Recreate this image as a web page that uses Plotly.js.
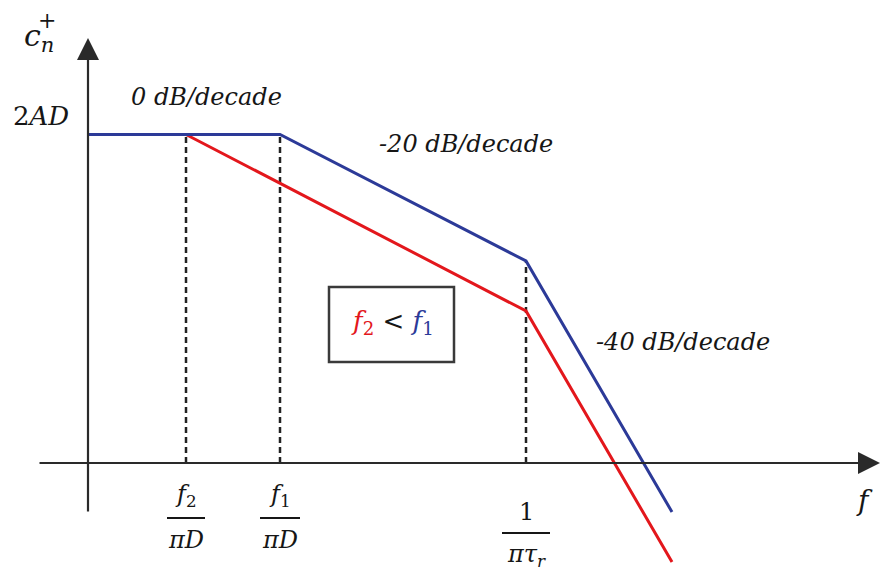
<!DOCTYPE html>
<html>
<head>
<meta charset="utf-8">
<script src="https://cdn.plot.ly/plotly-3.0.1.min.js"></script>
<style>
  html, body { margin: 0; padding: 0; background: #ffffff; }
  #chart { width: 881px; height: 573px; }
</style>
</head>
<body>
<div id="chart"></div>
<script>
// Asymptotic (Bode-style) magnitude of the one-sided spectrum c_n^+
// Horizontal unit: log-frequency position; vertical unit: magnitude level.

// Break frequencies on the log-frequency axis
const breakNames = ['f2/πD', 'f1/πD', '1/πτr'];
const breakPositions = [9.8, 19.2, 43.8];
const freqEnd = 58.4;

// Flat level (2AD)
const flatLevel = 32.85;

// Series: f1 case (blue) and f2 case (red)
const blueX = [0, breakPositions[1], breakPositions[2], freqEnd];
const blueY = [flatLevel, flatLevel, 20.2, -4.9];
const redX = [breakPositions[0], breakPositions[2], freqEnd];
const redY = [flatLevel, 15.2, -9.9];

// Levels where the dashed guides meet the curves
const guideTops = [flatLevel, flatLevel, blueY[2]];

// Tick labels (fractions)
const tickNumerators = ['<i>f</i><sub>2</sub>', '<i>f</i><sub>1</sub>', '1'];
const tickDenominators = ['<i>πD</i>', '<i>πD</i>', '<i>πτ</i><sub><i>r</i></sub>'];

// Slope labels
const slopeLabels = ['0 dB/decade', '-20 dB/decade', '-40 dB/decade'];

const BLUE = '#2c3a98';
const RED = '#e3171c';
const AXIS = '#2a2a2a';
const INK = '#161616';
const SERIF = 'DejaVu Serif';

// Vertical placement of the fraction parts (per tick)
const numY = [-3.2, -3.2, -4.9];
const barY = [-5.5, -5.5, -7.0];
const denY = [-7.7, -7.7, -9.2];
const barHalf = [1.9, 2.0, 2.4];

const traces = [];

// Dashed guides from the axis up to each break
breakPositions.forEach((bx, i) => {
  traces.push({
    x: [bx, bx], y: [0, guideTops[i]],
    mode: 'lines', hoverinfo: 'skip', showlegend: false,
    line: { color: '#222222', width: 2.5, dash: '6px,4px' }
  });
});

traces.push({
  x: redX, y: redY, mode: 'lines', hoverinfo: 'skip', showlegend: false,
  line: { color: RED, width: 3 }
});
traces.push({
  x: blueX, y: blueY, mode: 'lines', hoverinfo: 'skip', showlegend: false,
  line: { color: BLUE, width: 3 }
});

const shapes = [];
const annotations = [];

// Axes with arrowheads
annotations.push({
  x: 79.2, y: 0, ax: -5.0, ay: 0, xref: 'x', yref: 'y', axref: 'x', ayref: 'y',
  text: '', showarrow: true, arrowhead: 2, arrowsize: 2, arrowwidth: 2.2, arrowcolor: AXIS
});
annotations.push({
  x: 0, y: 42.5, ax: 0, ay: -5.0, xref: 'x', yref: 'y', axref: 'x', ayref: 'y',
  text: '', showarrow: true, arrowhead: 2, arrowsize: 2, arrowwidth: 2.2, arrowcolor: AXIS
});

// Fraction tick labels
breakPositions.forEach((bx, i) => {
  annotations.push({
    x: bx, y: numY[i], xref: 'x', yref: 'y', showarrow: false,
    text: tickNumerators[i], font: { family: SERIF, size: 24, color: INK },
    xanchor: 'center', yanchor: 'middle'
  });
  annotations.push({
    x: bx, y: denY[i], xref: 'x', yref: 'y', showarrow: false,
    text: tickDenominators[i], font: { family: SERIF, size: 24, color: INK },
    xanchor: 'center', yanchor: 'middle'
  });
  shapes.push({
    type: 'line', xref: 'x', yref: 'y',
    x0: bx - barHalf[i], x1: bx + barHalf[i], y0: barY[i], y1: barY[i],
    line: { color: INK, width: 2 }
  });
});

// Slope labels
const slopePos = [[11.8, 36.6], [37.8, 31.9], [59.5, 12.1]];
slopeLabels.forEach((t, i) => {
  annotations.push({
    x: slopePos[i][0], y: slopePos[i][1], xref: 'x', yref: 'y', showarrow: false,
    text: '<i>' + t + '</i>', font: { family: SERIF, size: 24, color: INK },
    xanchor: 'center', yanchor: 'middle'
  });
});

// Level label and axis names
annotations.push({
  x: -4.7, y: 34.7, xref: 'x', yref: 'y', showarrow: false,
  text: '2<i>AD</i>', font: { family: SERIF, size: 26, color: INK },
  xanchor: 'center', yanchor: 'middle'
});
annotations.push({
  x: -4.9, y: 42.6, xref: 'x', yref: 'y', showarrow: false,
  text: '<i>c</i><sub><i>n</i></sub>', font: { family: SERIF, size: 30, color: INK },
  xanchor: 'center', yanchor: 'middle'
});
annotations.push({
  x: -4.1, y: 44.3, xref: 'x', yref: 'y', showarrow: false,
  text: '+', font: { family: SERIF, size: 22, color: INK },
  xanchor: 'center', yanchor: 'middle'
});
annotations.push({
  x: 77.6, y: -3.7, xref: 'x', yref: 'y', showarrow: false,
  text: '<i>f</i>', font: { family: SERIF, size: 28, color: INK },
  xanchor: 'center', yanchor: 'middle'
});

// Inset box: f2 < f1
shapes.push({
  type: 'rect', xref: 'x', yref: 'y', x0: 24.1, x1: 36.6, y0: 10.1, y1: 17.6,
  line: { color: '#3a3a3a', width: 2.5 }, fillcolor: 'rgba(0,0,0,0)'
});
annotations.push({
  x: 30.4, y: 14.1, xref: 'x', yref: 'y', showarrow: false,
  text: '<span style="color:' + RED + '"><i>f</i><sub>2</sub></span> &lt; ' +
        '<span style="color:' + BLUE + '"><i>f</i><sub>1</sub></span>',
  font: { family: SERIF, size: 26, color: INK },
  xanchor: 'center', yanchor: 'middle'
});

const layout = {
  width: 881, height: 573,
  margin: { l: 0, r: 0, t: 0, b: 0 },
  paper_bgcolor: '#ffffff', plot_bgcolor: '#ffffff',
  showlegend: false,
  font: { family: SERIF },
  xaxis: { range: [-8.8, 79.3], visible: false, fixedrange: true },
  yaxis: { range: [-11.0, 46.3], visible: false, fixedrange: true },
  shapes: shapes,
  annotations: annotations
};

Plotly.newPlot('chart', traces, layout, { staticPlot: true, displayModeBar: false });
</script>
</body>
</html>
